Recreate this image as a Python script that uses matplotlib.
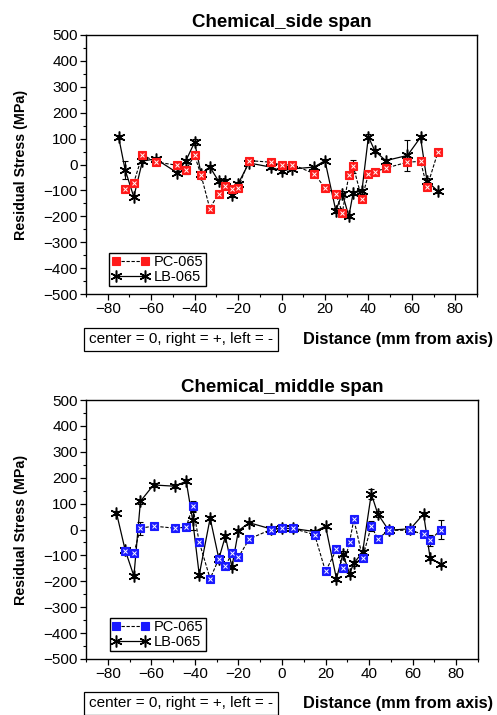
import matplotlib
matplotlib.use("Agg")
import matplotlib.pyplot as plt

plt.rcParams['font.family'] = ['Liberation Sans', 'DejaVu Sans']

# ---------------- data: side span ----------------
side_pc_x = [-72, -68, -64, -58, -48, -44, -40, -37, -33, -29, -26, -23, -20, -15, -5, 0, 5,
             15, 20, 25, 28, 31, 33, 37, 40, 43, 48, 58, 64, 67, 72]
side_pc_y = [-95, -70, 38, 10, -3, -20, 35, -42, -170, -112, -84, -96, -90, 15, 9, -3, 0,
             -35, -90, -112, -186, -41, -6, -132, -38, -28, -14, 9, 12, -87, 48]
side_pc_err = [8, 8, 8, 8, 8, 15, 8, 12, 10, 8, 8, 8, 8, 6, 6, 6, 6,
               8, 6, 8, 8, 8, 25, 8, 10, 8, 8, 8, 6, 10, 6]

side_lb_x = [-75, -72, -68, -64, -58, -48, -44, -40, -37, -33, -29, -26, -23, -20, -15, -5, 0,
             5, 15, 20, 25, 28, 31, 33, 37, 40, 43, 48, 58, 64, 67, 72]
side_lb_y = [107, -20, -125, 13, 22, -32, 15, 86, -36, -9, -64, -64, -116, -75, 6, -10, -25,
             -17, -10, 15, -178, -112, -200, -109, -103, 107, 52, 15, 35, 105, -64, -103]
side_lb_err = [8, 35, 6, 8, 8, 6, 8, 12, 8, 6, 8, 8, 10, 8, 6, 6, 6,
               6, 6, 6, 10, 10, 8, 8, 10, 10, 8, 8, 60, 8, 10, 6]

# ---------------- data: middle span ----------------
mid_pc_x = [-72, -68, -65, -59, -49, -44, -41, -38, -33, -29, -26, -23, -20, -15, -5, 0, 5,
            15, 20, 25, 28, 31, 33, 37, 41, 44, 49, 59, 65, 68, 73]
mid_pc_y = [-84, -92, 5, 13, 5, 9, 89, -49, -190, -113, -142, -91, -107, -36, 0, 4, 4,
            -20, -162, -77, -149, -49, 39, -109, 13, -36, -3, -3, -19, -42, 0]
mid_pc_err = [8, 8, 25, 8, 6, 8, 20, 10, 10, 8, 6, 6, 8, 6, 6, 6, 6,
              8, 8, 6, 8, 6, 15, 8, 20, 6, 6, 6, 8, 20, 35]

mid_lb_x = [-76, -72, -68, -65, -59, -49, -44, -41, -38, -33, -29, -26, -23, -20, -15, -5, 0,
            5, 15, 20, 25, 28, 31, 33, 37, 41, 44, 49, 59, 65, 68, 73]
mid_lb_y = [64, -80, -180, 109, 172, 167, 187, 35, -175, 44, -113, -26, -145, -4, 26, 2, 4,
            4, -8, 13, -190, -94, -171, -130, -88, 138, 60, -3, 3, 60, -109, -135]
mid_lb_err = [8, 12, 8, 10, 8, 8, 8, 35, 8, 8, 10, 8, 8, 6, 6, 6, 6,
              6, 6, 6, 8, 10, 8, 10, 10, 20, 10, 6, 8, 8, 8, 6]

titles = ["Chemical_side span", "Chemical_middle span"]
series_labels = ["PC-065", "LB-065"]
pc_colors = ["#ff1a1a", "#1a1aff"]
x_ticks = [-80, -60, -40, -20, 0, 20, 40, 60, 80]
y_ticks = [-500, -400, -300, -200, -100, 0, 100, 200, 300, 400, 500]
note_text = "center = 0, right = +, left = -"
xlabel_text = "Distance (mm from axis)"
ylabel_text = "Residual Stress (MPa)"

datasets = [
    (side_pc_x, side_pc_y, side_pc_err, side_lb_x, side_lb_y, side_lb_err),
    (mid_pc_x, mid_pc_y, mid_pc_err, mid_lb_x, mid_lb_y, mid_lb_err),
]

fig = plt.figure(figsize=(4.97, 7.15), dpi=100)
fig.patch.set_facecolor("white")

axes_rects = [
    [86 / 497, (715 - 294) / 715, 391 / 497, 259 / 715],
    [86 / 497, (715 - 659) / 715, 392 / 497, 259 / 715],
]
note_y = [(715 - 339.5) / 715, (715 - 703.5) / 715]
asterisk = (6, 2, 0)

for i, (rect, data) in enumerate(zip(axes_rects, datasets)):
    px, py, pe, lx, ly, le = data
    ax = fig.add_axes(rect)
    col = pc_colors[i]

    # LB-065 : solid black line with asterisks
    ax.errorbar(lx, ly, yerr=le, fmt='none', ecolor='black', elinewidth=0.8,
                capsize=2.5, capthick=0.8, zorder=2)
    h_lb, = ax.plot(lx, ly, color='black', lw=0.9, ls='-', marker=asterisk,
                    ms=8.5, mew=1.1, mec='black', zorder=3, label=series_labels[1])

    # PC-065 : dashed black line with coloured squares
    ax.errorbar(px, py, yerr=pe, fmt='none', ecolor='black', elinewidth=0.8,
                capsize=2.5, capthick=0.8, zorder=2)
    h_pc, = ax.plot(px, py, color='black', lw=0.8, ls=(0, (3, 1.5)), marker='s',
                    ms=6, mfc=col, mec=col, mew=0.8, zorder=4, label=series_labels[0])
    ax.plot(px, py, ls='none', marker='x', ms=3, mew=0.7,
            mec='white', zorder=5, label='_nolegend_')

    ax.set_xlim(-90, 90)
    ax.set_ylim(-500, 500)
    ax.set_xticks(x_ticks)
    ax.set_yticks(y_ticks)
    ax.set_xticks([t + 10 for t in x_ticks[:-1]] + [-90, 90], minor=True)
    ax.set_yticks([t + 50 for t in y_ticks[:-1]], minor=True)
    ax.tick_params(axis='both', which='major', direction='out', length=4,
                   width=0.9, labelsize=11, top=False, right=False, pad=2)
    ax.tick_params(axis='both', which='minor', direction='out', length=2.5,
                   width=0.8, top=False, right=False)
    for s in ax.spines.values():
        s.set_linewidth(1.0)
    ax.set_title(titles[i], fontsize=13.5, fontweight='bold', pad=6)
    ax.set_ylabel(ylabel_text, fontsize=10.3, fontweight='bold', labelpad=11)

    leg = ax.legend([h_pc, h_lb], series_labels, loc='lower left',
                    bbox_to_anchor=(0.06, 0.03), borderaxespad=0, fontsize=10.5,
                    numpoints=2, handlelength=2.6, handletextpad=0.3,
                    borderpad=0.15, labelspacing=0.05, fancybox=False,
                    framealpha=1, edgecolor='black')
    leg.get_frame().set_linewidth(1.0)

    fig.text(89 / 497, note_y[i], note_text, fontsize=11, ha='left', va='center',
             bbox=dict(boxstyle='square,pad=0.3', fc='white', ec='black', lw=0.9))
    fig.text(493 / 497, note_y[i], xlabel_text, fontsize=11.8, fontweight='bold',
             ha='right', va='center')

fig.savefig("out.png", dpi=100)
